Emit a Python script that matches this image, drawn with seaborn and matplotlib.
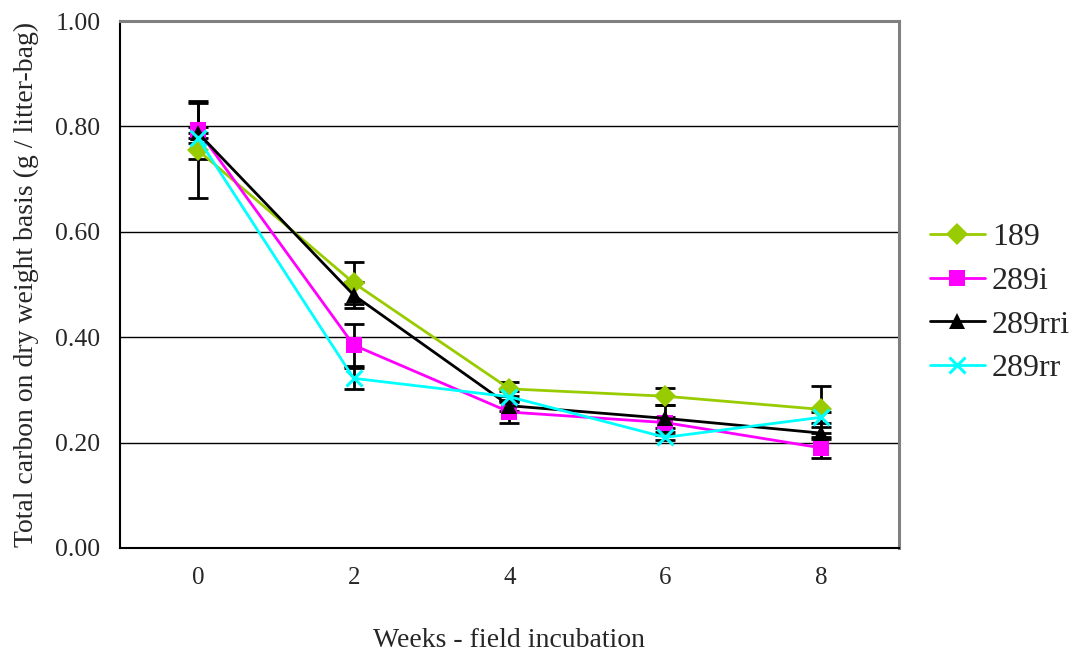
import pandas as pd
import numpy as np
import matplotlib
matplotlib.use("Agg")
import matplotlib.pyplot as plt
import seaborn as sns

# Datos
weeks = [0, 2, 4, 6, 8]
series = ['189', '289i', '289rri', '289rr']

c_189 = [0.755, 0.503, 0.302, 0.288, 0.263]
c_289i = [0.793, 0.385, 0.258, 0.238, 0.190]
c_289rri = [0.788, 0.480, 0.270, 0.246, 0.218]
c_289rr = [0.778, 0.322, 0.287, 0.210, 0.248]

err_189 = [0.090, 0.040, 0.013, 0.016, 0.045]
err_289i = [0.055, 0.040, 0.020, 0.010, 0.020]
err_289rri = [0.010, 0.025, 0.010, 0.025, 0.012]
err_289rr = [0.010, 0.020, 0.010, 0.005, 0.010]

valores = [c_189, c_289i, c_289rri, c_289rr]
errores = [err_189, err_289i, err_289rri, err_289rr]

colores = {'189': '#99CC00', '289i': '#FF00FF', '289rri': '#000000', '289rr': '#00FFFF'}
marcadores = {'189': 'D', '289i': 's', '289rri': '^', '289rr': 'X'}

df = pd.DataFrame({
    'week': weeks * len(series),
    'carbon': sum(valores, []),
    'err': sum(errores, []),
    'serie': [s for s in series for _ in weeks],
})

sns.set_style('white')
plt.rcParams['font.family'] = ['Liberation Serif', 'DejaVu Serif']

fig = plt.figure(figsize=(10.75, 6.53), dpi=100)
ax = fig.add_axes([0.1116, 0.1608, 0.7247, 0.807])

# barras de error en negro, debajo de las líneas
for s, v, e in zip(series, valores, errores):
    ax.errorbar(weeks, v, yerr=e, fmt='none', ecolor='black',
                elinewidth=2, capsize=7, capthick=2, zorder=2)

sns.lineplot(data=df, x='week', y='carbon', hue='serie', style='serie',
             palette=colores, markers=marcadores, dashes=False,
             linewidth=2, markersize=10, ax=ax, zorder=3)

def ajustar_marcador(linea):
    m = linea.get_marker()
    if m in ('X', 'x'):
        linea.set_marker('x')
        linea.set_markeredgecolor(linea.get_color())
        linea.set_markeredgewidth(2.2)
        linea.set_markersize(11)
    elif m in ('D', 's', '^'):
        linea.set_markeredgewidth(0)
        linea.set_markersize(11)

for linea in ax.get_lines():
    ajustar_marcador(linea)

ax.set_xlim(-1, 9)
ax.set_ylim(0, 1.0)
ax.set_yticks([0, 0.2, 0.4, 0.6, 0.8, 1.0])
ax.set_yticklabels([f'{v:.2f}' for v in [0, 0.2, 0.4, 0.6, 0.8, 1.0]])
ax.set_xticks(weeks)
ax.set_xticks([-1, 1, 3, 5, 7, 9], minor=True)
ax.tick_params(axis='x', which='major', length=0, labelsize=18, pad=14)
ax.tick_params(axis='x', which='minor', length=7, width=1.2, direction='out', color='black')
ax.tick_params(axis='y', length=7, width=1.2, direction='out', labelsize=18.5, color='black', pad=7)

ax.yaxis.grid(True, color='black', linewidth=1)
ax.set_axisbelow(True)
for lado in ['top', 'right']:
    ax.spines[lado].set_color('#808080')
    ax.spines[lado].set_linewidth(2.2)
for lado in ['left', 'bottom']:
    ax.spines[lado].set_color('black')
    ax.spines[lado].set_linewidth(1.5)

ax.set_xlabel('Weeks - field incubation', fontsize=20, labelpad=28)
ax.set_ylabel('Total carbon on dry weight basis (g / litter-bag)', fontsize=20, labelpad=12)

handles, labels = ax.get_legend_handles_labels()
for h in handles:
    ajustar_marcador(h)
ax.get_legend().remove()
fig.legend(handles, labels, loc='center left', bbox_to_anchor=(0.865, 0.536),
           frameon=False, fontsize=23, handlelength=1.72, labelspacing=0.45,
           handletextpad=0.22, borderaxespad=0, borderpad=0)

plt.savefig('out.png', dpi=100)
